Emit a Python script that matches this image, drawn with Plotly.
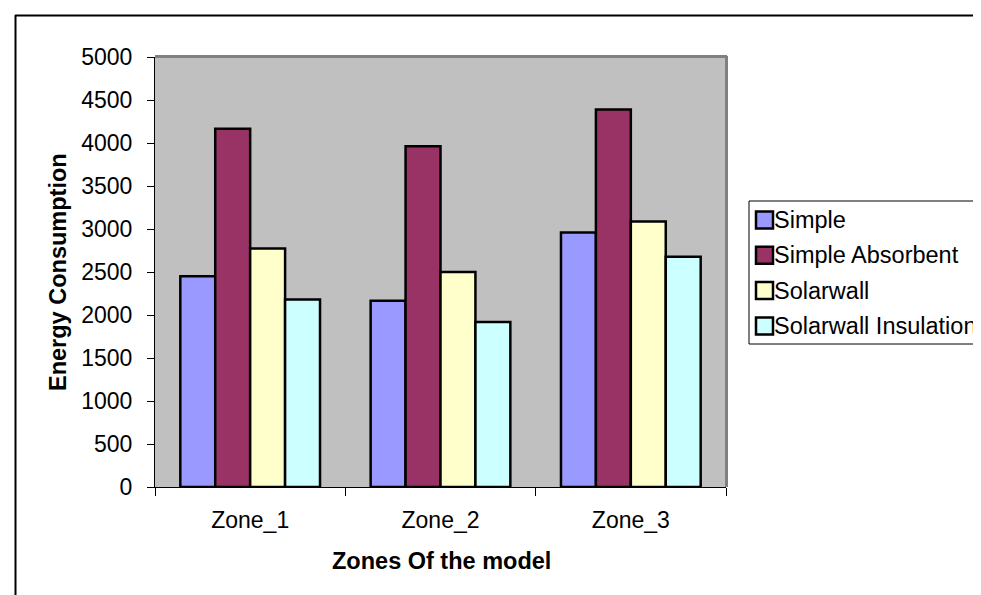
import plotly.graph_objects as go

categories = ["Zone_1", "Zone_2", "Zone_3"]
series_names = ["Simple", "Simple Absorbent", "Solarwall", "Solarwall Insulation"]
simple = [2450, 2165, 2960]
simple_absorbent = [4167, 3961, 4389]
solarwall = [2774, 2500, 3086]
solarwall_insulation = [2180, 1918, 2677]
colors = ["#9999FF", "#993366", "#FFFFCC", "#CCFFFF"]
y_ticks = [0, 500, 1000, 1500, 2000, 2500, 3000, 3500, 4000, 4500, 5000]

W, H = 981, 595
L, R, T, B = 147, 718, 49, 479
pw, ph = R - L, B - T

def px_x(p):
    return (p - L) / pw

def px_y(p):
    return (B - p) / ph

font_family = "Liberation Sans, Arial, sans-serif"

fig = go.Figure()
for name, vals, col in zip(series_names,
                           [simple, simple_absorbent, solarwall, solarwall_insulation],
                           colors):
    fig.add_trace(go.Bar(
        x=categories, y=vals, name=name, showlegend=False,
        marker=dict(color=col, line=dict(color="black", width=2.5)),
    ))

fig.update_layout(
    width=W, height=H,
    margin=dict(l=L, r=W - R, t=T, b=H - B, pad=0),
    paper_bgcolor="white",
    plot_bgcolor="#C0C0C0",
    barmode="group",
    bargap=0.266,
    bargroupgap=0,
    font=dict(family=font_family, size=23, color="black"),
    xaxis=dict(
        showgrid=False, zeroline=False,
        showline=True, linecolor="black", linewidth=1,
        ticks="outside", tickson="boundaries", ticklen=8, tickcolor="black",
        tickfont=dict(size=23, family=font_family),
        ticklabelstandoff=12,
    ),
    yaxis=dict(
        range=[0, 5000], tickvals=y_ticks,
        showgrid=False, zeroline=False,
        showline=True, linecolor="black", linewidth=1,
        ticks="outside", ticklen=7, tickcolor="black",
        tickfont=dict(size=23, family=font_family),
        ticklabelstandoff=10,
    ),
)

# plot-area border (top/right in gray)
fig.add_shape(type="line", xref="paper", yref="paper", x0=0, x1=px_x(719), y0=px_y(48.5), y1=px_y(48.5),
              line=dict(color="#808080", width=3))
fig.add_shape(type="line", xref="paper", yref="paper", x0=px_x(718.5), x1=px_x(718.5), y0=0, y1=px_y(48),
              line=dict(color="#808080", width=3))

# outer chart frame (top and left visible)
fig.add_shape(type="line", xref="paper", yref="paper",
              x0=px_x(7), x1=px_x(990), y0=px_y(7.5), y1=px_y(7.5),
              line=dict(color="black", width=2))
fig.add_shape(type="line", xref="paper", yref="paper",
              x0=px_x(7.5), x1=px_x(7.5), y0=px_y(7), y1=px_y(600),
              line=dict(color="black", width=2))

# axis titles
fig.add_annotation(text="<b>Energy Consumption</b>", xref="paper", yref="paper",
                   x=0, y=0.5, xanchor="center", yanchor="middle",
                   xshift=50 - L, textangle=-90, showarrow=False,
                   font=dict(size=23.5, family=font_family, color="black"))
fig.add_annotation(text="<b>Zones Of the model</b>", xref="paper", yref="paper",
                   x=px_x(433), y=0, xanchor="center", yanchor="middle",
                   yshift=-(553 - B), showarrow=False,
                   font=dict(size=23.5, family=font_family, color="black"))

# legend (box, swatches, labels)
leg_left, leg_right, leg_top, leg_bottom = 741, 980, 193, 336
fig.add_shape(type="rect", xref="paper", yref="paper",
              x0=px_x(leg_left), x1=px_x(leg_right), y0=px_y(leg_bottom), y1=px_y(leg_top),
              fillcolor="white", line=dict(color="black", width=1))
row_centers = [212, 247.3, 282.6, 318]
for name, col, yc in zip(series_names, colors, row_centers):
    fig.add_shape(type="rect", xref="paper", yref="paper",
                  x0=px_x(748), x1=px_x(765), y0=px_y(yc + 8.5), y1=px_y(yc - 8.5),
                  fillcolor=col, line=dict(color="black", width=2.5))
    fig.add_annotation(text=name, xref="paper", yref="paper",
                       x=px_x(765), y=px_y(yc), xanchor="left", yanchor="middle",
                       showarrow=False, borderpad=0,
                       font=dict(size=23.5, family=font_family, color="black"))

fig.write_html("out.html")
